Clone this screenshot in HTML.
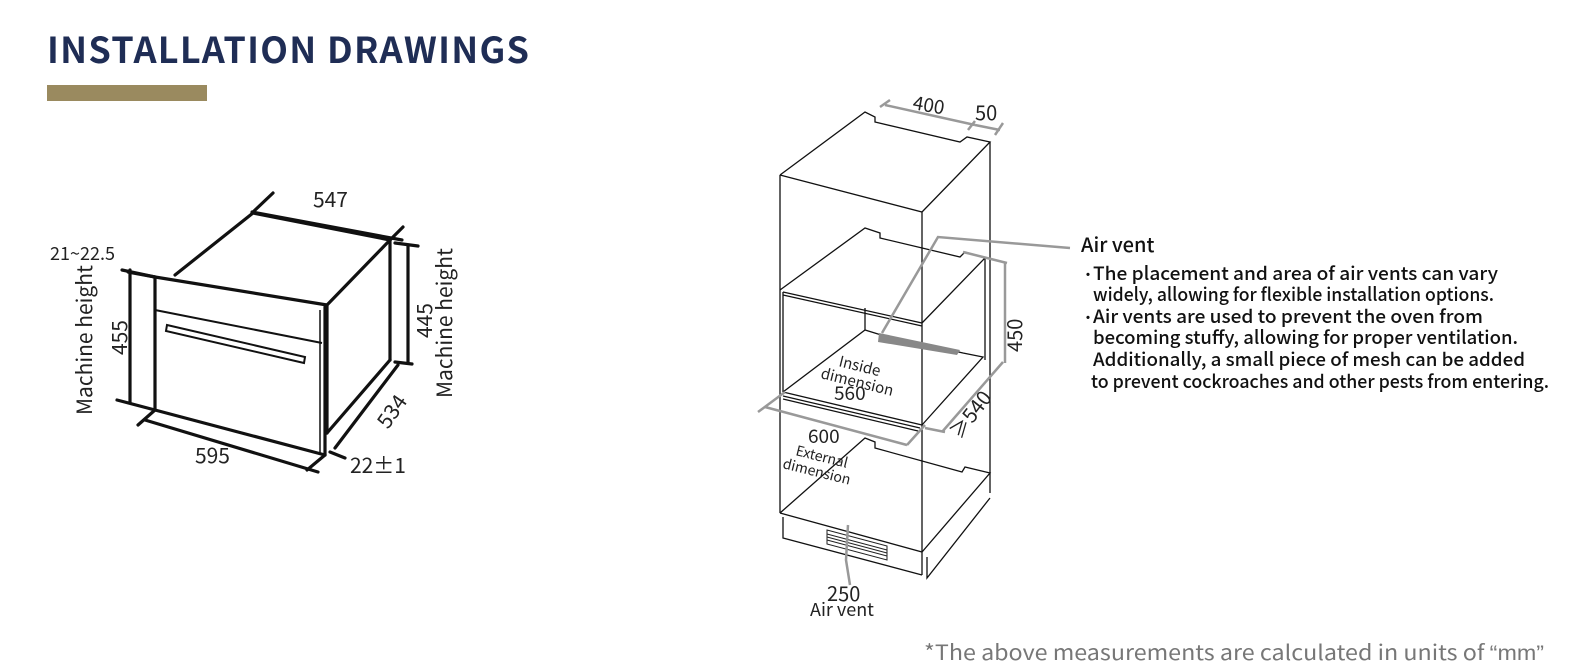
<!DOCTYPE html>
<html><head><meta charset="utf-8"><style>
html,body{margin:0;padding:0;background:#fff;}
body{width:1575px;height:672px;position:relative;overflow:hidden;font-family:"Noto Sans CJK SC","Liberation Sans",sans-serif;}
svg{position:absolute;left:0;top:0;}
text{font-family:"Noto Sans CJK SC","Liberation Sans",sans-serif;}
</style></head><body>
<svg width="1575" height="672" viewBox="0 0 1575 672">
<text x="47" y="63" font-size="36" font-weight="700" fill="#1f2d55" font-family="Liberation Sans, sans-serif" textLength="482">INSTALLATION DRAWINGS</text>
<rect x="47" y="85" width="160" height="16" fill="#9a8a5f"/>

<!-- left oven -->
<g stroke="#111" stroke-width="3.2" fill="none" stroke-linecap="round">
<polyline points="175,275 253,213 390,240 327,305"/>
<line x1="155" y1="277" x2="327" y2="305"/>
<line x1="128" y1="272" x2="155" y2="277"/>
<line x1="155" y1="277" x2="155" y2="410"/>
<line x1="325" y1="307" x2="325" y2="455"/>
<line x1="155" y1="410" x2="325" y2="455"/>
<line x1="327" y1="305" x2="327" y2="433"/>
<line x1="390" y1="240" x2="390" y2="360"/>
<line x1="327" y1="433" x2="390" y2="360"/>
<line x1="252" y1="212" x2="402" y2="240"/>
<line x1="273" y1="193" x2="252" y2="213"/>
<line x1="403" y1="227" x2="390" y2="240"/>
<line x1="408" y1="245" x2="408" y2="363"/>
<line x1="395" y1="243" x2="418" y2="246"/>
<line x1="395" y1="362" x2="412" y2="364"/>
<line x1="130" y1="270" x2="130" y2="403"/>
<line x1="122" y1="270" x2="155" y2="277"/>
<line x1="117" y1="400" x2="155" y2="410"/>
<line x1="145" y1="420" x2="318" y2="472"/>
<line x1="138" y1="425" x2="155" y2="410"/>
<line x1="307" y1="470" x2="325" y2="455"/>
<line x1="398" y1="365" x2="335" y2="448"/>
<line x1="330" y1="452" x2="345" y2="458"/>
</g>
<g stroke="#111" stroke-width="2" fill="none">
<line x1="155" y1="310" x2="322" y2="343"/>
<polygon points="167,325 305,357 304,363 166,331"/>
<line x1="320" y1="310" x2="320" y2="455" stroke-width="1.5"/>
</g>
<g font-size="21" fill="#222">
<text x="313" y="207">547</text>
<text x="50" y="260" font-size="18">21~22.5</text>
<text x="195" y="463">595</text>
<text x="350" y="473">22±1</text>
<text transform="translate(388,430) rotate(-55)">534</text>
<text transform="translate(127,355) rotate(-90)">455</text>
<text transform="translate(92,415) rotate(-90)">Machine height</text>
<text transform="translate(432,338) rotate(-90)">445</text>
<text transform="translate(452,398) rotate(-90)">Machine height</text>
</g>

<!-- cabinet -->
<g stroke="#111" stroke-width="1.3" fill="none">
<polyline points="780,175 865,112 875,117 875,122 960,142 967,137 990,142 922,212 780,175"/>
<line x1="780" y1="175" x2="780" y2="290"/>
<line x1="922" y1="212" x2="922" y2="575"/>
<line x1="990" y1="142" x2="990" y2="493"/>
<polyline points="780,290 865,228 880,233 880,238 960,257 965,252 985,258 922,323 783,292"/>
<line x1="783" y1="295" x2="922" y2="326"/>
<line x1="783" y1="292" x2="783" y2="392"/>
<line x1="780" y1="290" x2="780" y2="398"/>
<line x1="985" y1="258" x2="985" y2="360"/>
<line x1="865" y1="330" x2="865" y2="308"/>
<polyline points="783,392 865,330 878,334 963,353 983,357 922,425"/>
<line x1="783" y1="392" x2="922" y2="425"/>
<line x1="783" y1="396" x2="920" y2="428"/>
<line x1="783" y1="399" x2="918" y2="431"/>
<line x1="780" y1="398" x2="780" y2="513"/>
<polyline points="780,513 865,438 875,442 875,448 962,472 965,467 990,473 922,552 780,513"/>
<polyline points="783,517 783,538 922,575"/>
<polyline points="927,557 927,578 990,498"/>
</g>
<polygon points="879,333 960,350 957,355 878,342" fill="#888"/>
<g stroke="#222" stroke-width="1" fill="none">
<polygon points="827,530 887,546 887,560 827,544"/>
<line x1="827" y1="534" x2="887" y2="550"/><line x1="827" y1="537" x2="887" y2="553"/><line x1="827" y1="540" x2="887" y2="556"/>
</g>
<g stroke="#999" stroke-width="2.5" fill="none">
<line x1="885" y1="105" x2="975" y2="125"/>
<line x1="880" y1="107" x2="890" y2="100"/>
<line x1="968" y1="130" x2="975" y2="121"/>
<line x1="975" y1="125" x2="1000" y2="130"/>
<line x1="995" y1="135" x2="1003" y2="123"/>
<polyline points="882,333 938,237 1070,248"/>
<line x1="963" y1="252" x2="1007" y2="263"/>
<line x1="1005" y1="263" x2="1005" y2="363"/>
<line x1="1003" y1="362" x2="942" y2="432"/>
<line x1="925" y1="428" x2="945" y2="432"/>
<line x1="758" y1="412" x2="785" y2="392"/>
<line x1="765" y1="407" x2="907" y2="445"/>
<line x1="907" y1="445" x2="925" y2="425"/>
<polyline points="848,525 846,560 850,585"/>
</g>
<g font-size="19" fill="#222">
<text x="912" y="109" transform="rotate(10 912 109)">400</text>
<text x="975" y="120" font-size="20">50</text>
<text transform="translate(1022,352) rotate(-90)" font-size="20">450</text>
<text transform="translate(960,440) rotate(-52)" font-size="20">≥540</text>
<text x="838" y="366" font-size="15" transform="rotate(14 838 366)">Inside</text>
<text x="820" y="378" font-size="15" transform="rotate(14 820 378)">dimension</text>
<text x="834" y="400">560</text>
<text x="808" y="443">600</text>
<text x="795" y="455" font-size="14" transform="rotate(14 795 455)">External</text>
<text x="782" y="468" font-size="14" transform="rotate(14 782 468)">dimension</text>
<text x="827" y="601" font-size="20">250</text>
<text x="810" y="616" font-size="18">Air vent</text>
</g>
<g fill="#111" font-size="18.5" font-weight="500">
<text x="1081" y="252" font-size="20">Air vent</text>
<text x="1081" y="280" font-size="14">•</text>
<text x="1093" y="280" textLength="405" lengthAdjust="spacingAndGlyphs">The placement and area of air vents can vary</text>
<text x="1093" y="301" textLength="401" lengthAdjust="spacingAndGlyphs">widely, allowing for flexible installation options.</text>
<text x="1081" y="323" font-size="14">•</text>
<text x="1093" y="323" textLength="390" lengthAdjust="spacingAndGlyphs">Air vents are used to prevent the oven from</text>
<text x="1093" y="344" textLength="425" lengthAdjust="spacingAndGlyphs">becoming stuffy, allowing for proper ventilation.</text>
<text x="1093" y="366" textLength="432" lengthAdjust="spacingAndGlyphs">Additionally, a small piece of mesh can be added</text>
<text x="1091" y="388" textLength="458" lengthAdjust="spacingAndGlyphs">to prevent cockroaches and other pests from entering.</text>
</g>
<text x="924" y="660" font-size="21" fill="#777" textLength="620" lengthAdjust="spacingAndGlyphs">*The above measurements are calculated in units of <tspan font-family="Liberation Sans, sans-serif">“mm”</tspan></text>
</svg>
</body></html>
